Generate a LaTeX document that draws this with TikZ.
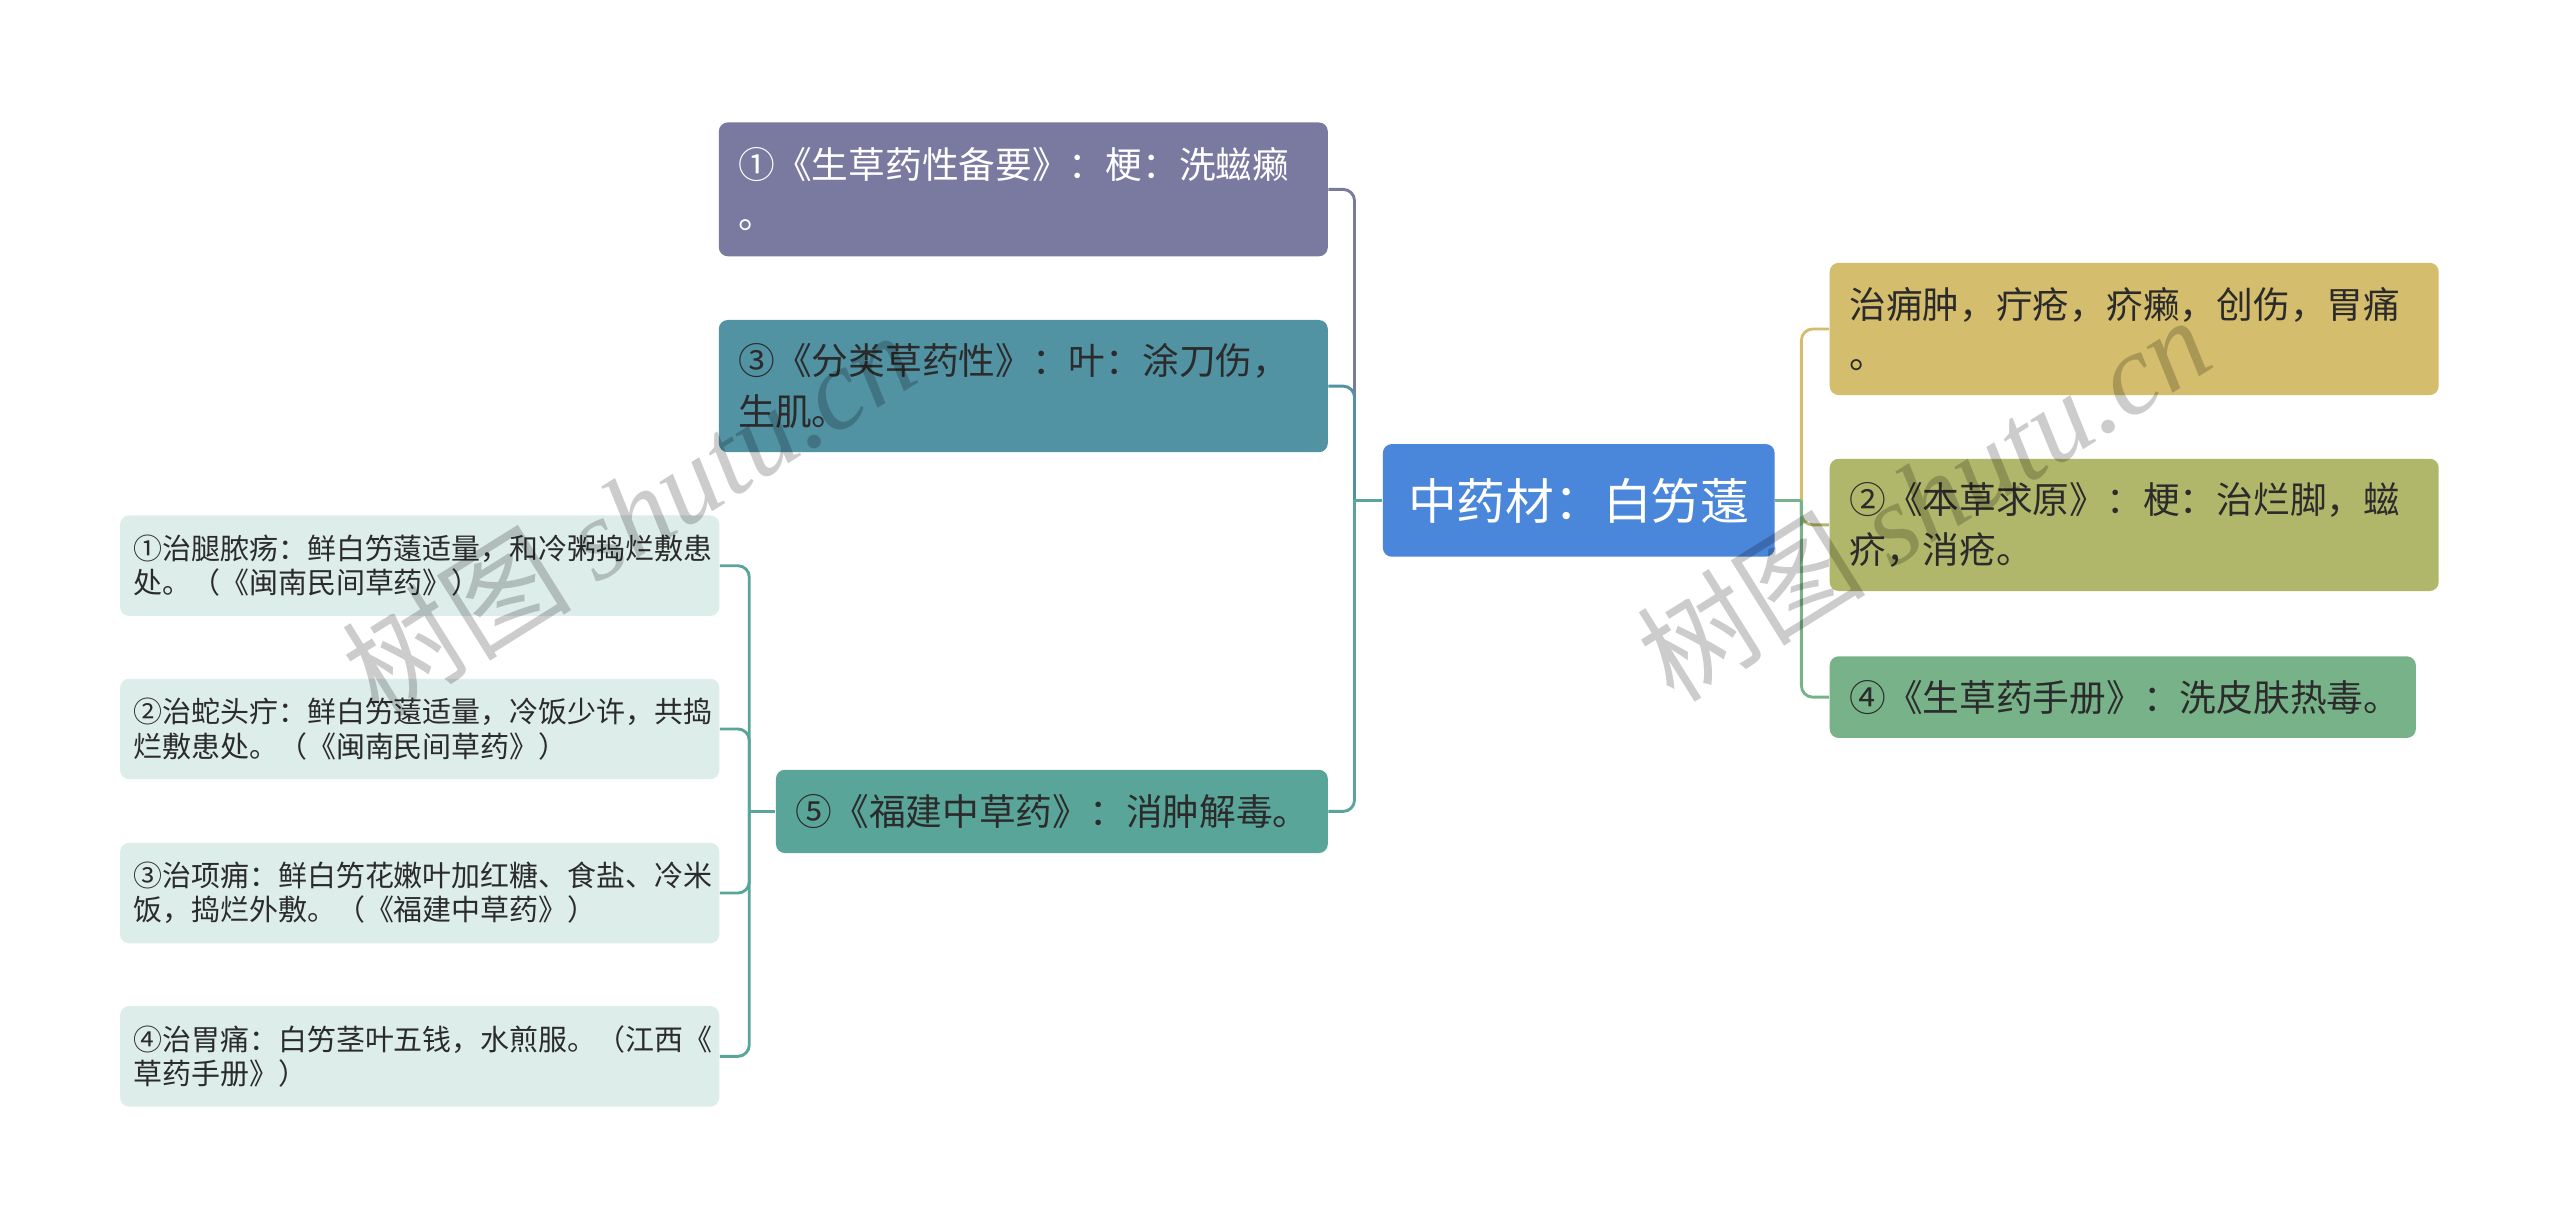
\documentclass[tikz,border=0pt]{standalone}
\usepackage{fontspec}
\setmainfont{Noto Sans CJK SC}
\newfontfamily\wmserif{Liberation Serif}
\usetikzlibrary{positioning,calc}
\definecolor{rootblue}{HTML}{4A86DA}
\definecolor{lavender}{HTML}{7A79A0}
\definecolor{petrol}{HTML}{5192A3}
\definecolor{seagreen}{HTML}{5AA59A}
\definecolor{mustard}{HTML}{D4BD6C}
\definecolor{mossgreen}{HTML}{B0B76A}
\definecolor{leafgreen}{HTML}{78B289}
\definecolor{leafbg}{HTML}{DDEDEA}
\definecolor{inktext}{HTML}{2B2B2B}
\tikzset{
  mapbox/.style={rounded corners=1.1mm, align=left, inner xsep=2.4mm, inner ysep=1mm, text=inktext},
  rootbox/.style={mapbox, fill=rootblue, text=white, align=center, inner xsep=0pt,
    minimum width=48mm, minimum height=13.8mm, font=\fontsize{17}{20}\selectfont},
  midbox/.style={mapbox, font=\fontsize{12.8}{17.5}\selectfont, text width=69.8mm, minimum height=16.2mm},
  shortbox/.style={mapbox, font=\fontsize{12.8}{17.5}\selectfont, minimum height=10.2mm},
  leafbox/.style={mapbox, fill=leafbg, inner xsep=1.6mm, font=\fontsize{10.1}{12}\selectfont,
    text width=70.2mm, minimum height=12.3mm},
  branch/.style={line width=1pt, rounded corners=1.4mm},
  watermark/.style={rotate=32, text=black, text opacity=0.2, inner sep=0pt},
}

\begin{document}
\begin{tikzpicture}
\path[fill=white, use as bounding box] (-193.4mm,61.3mm) rectangle (120.2mm,-89.5mm);
% root
\node[rootbox] (centre) at (0,0) {中药材：白竻薳};
% left branches
\node[midbox, fill=lavender, text=white, left=6.6mm of centre.west, yshift=38.1mm, minimum height=16.4mm] (beiyao) {①《生草药性备要》：梗：洗螆癞\\。};
\node[midbox, fill=petrol, left=6.6mm of centre.west, yshift=14mm] (fenlei) {③《分类草药性》：叶：涂刀伤，\\生肌。};
\node[shortbox, fill=seagreen, text width=62.8mm, left=6.6mm of centre.west, yshift=-38.1mm] (fujian) {⑤《福建中草药》：消肿解毒。};
% right branches
\node[midbox, fill=mustard, right=6.6mm of centre.east, yshift=21mm] (yongzhong) {治痈肿，疔疮，疥癞，创伤，胃痛\\。};
\node[midbox, fill=mossgreen, right=6.6mm of centre.east, yshift=-3mm] (qiuyuan) {②《本草求原》：梗：治烂脚，螆\\疥，消疮。};
\node[shortbox, fill=leafgreen, text width=67mm, right=6.6mm of centre.east, yshift=-24.1mm, minimum height=10mm] (shouce) {④《生草药手册》：洗皮肤热毒。};
% remedies under 5
\node[leafbox, left=6.8mm of fujian.west, yshift=30.1mm] (tuiyang) {①治腿脓疡：鲜白竻薳适量，和冷粥捣烂敷患\\处。（《闽南民间草药》）};
\node[leafbox, left=6.8mm of fujian.west, yshift=10.1mm] (shetou) {②治蛇头疔：鲜白竻薳适量，冷饭少许，共捣\\烂敷患处。（《闽南民间草药》）};
\node[leafbox, left=6.8mm of fujian.west, yshift=-10mm] (xiangyong) {③治项痈：鲜白竻花嫩叶加红糖、食盐、冷米\\饭，捣烂外敷。（《福建中草药》）};
\node[leafbox, left=6.8mm of fujian.west, yshift=-30mm] (weitong) {④治胃痛：白竻茎叶五钱，水煎服。（江西《\\草药手册》）};
% trunks
\coordinate (ltrunk) at ($(centre.west)+(-3.4mm,0)$);
\coordinate (rtrunk) at ($(centre.east)+(3.2mm,0)$);
\coordinate (ftrunk) at ($(fujian.west)+(-3.2mm,0)$);
% connectors
\draw[branch, lavender] (ltrunk) |- (beiyao.east);
\draw[branch, petrol] (ltrunk) |- (fenlei.east);
\draw[branch, seagreen] (ltrunk) |- (fujian.east);
\draw[line width=1pt, seagreen] (centre.west) -- (ltrunk);
\draw[branch, mustard] (rtrunk) |- (yongzhong.west);
\draw[branch, mossgreen] (rtrunk) |- (qiuyuan.west);
\draw[branch, leafgreen] (rtrunk) |- (shouce.west);
\draw[line width=1pt, leafgreen] (centre.east) -- (rtrunk);
\foreach \leaf in {tuiyang,shetou,xiangyong,weitong}
  \draw[branch, seagreen] (ftrunk) |- (\leaf.east);
\draw[line width=1pt, seagreen] (fujian.west) -- (ftrunk);
% watermarks
\node[watermark] (wmleft) at (-116.4mm,-1.5mm) {\fontsize{40}{40}\selectfont 树图 {\wmserif\itshape shutu.cn}};
\node[watermark] (wmright) at (42.2mm,0.3mm) {\fontsize{40}{40}\selectfont 树图 {\wmserif\itshape shutu.cn}};
\end{tikzpicture}
\end{document}
